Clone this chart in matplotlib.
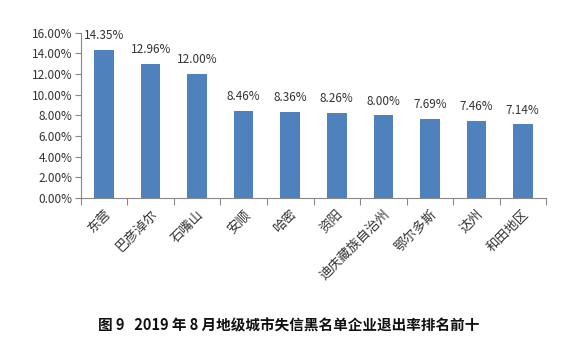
import numpy as np
import matplotlib
matplotlib.use("Agg")
import matplotlib.pyplot as plt
from matplotlib.ticker import FuncFormatter

plt.rcParams['font.family'] = ['Noto Sans CJK SC', 'DejaVu Sans']

cities = ["东营", "巴彦淖尔", "石嘴山", "安顺", "哈密", "资阳",
          "迪庆藏族自治州", "鄂尔多斯", "达州", "和田地区"]
rates = [14.35, 12.96, 12.00, 8.46, 8.36, 8.26, 8.00, 7.69, 7.46, 7.14]
yticks = [0, 2, 4, 6, 8, 10, 12, 14, 16]
caption = "图 9   2019 年 8 月地级城市失信黑名单企业退出率排名前十"

BAR = "#4F81BD"
AXIS = "#888888"
TEXT = "#333333"

fig = plt.figure(figsize=(5.7, 3.53), dpi=100)
ax = fig.add_axes([0.142, 0.439, 0.816, 0.468])

x = np.arange(len(cities))
ax.bar(x, rates, width=0.42, color=BAR)
for xi, v in zip(x, rates):
    ax.text(xi, v + 0.75, f"{v:.2f}%", ha="center", va="bottom",
            fontsize=8.5, color=TEXT)

ax.set_xlim(-0.5, len(cities) - 0.5)
ax.set_ylim(0, 16)
ax.set_yticks(yticks)
ax.yaxis.set_major_formatter(FuncFormatter(lambda v, p: f"{v:.2f}%"))
ax.tick_params(axis="y", labelsize=8.5, colors=AXIS, labelcolor=TEXT,
               length=4, width=0.8, pad=2)

# ticks on category boundaries, labels at centres
ax.set_xticks(np.arange(-0.5, len(cities) + 0.5, 1.0))
ax.set_xticklabels([])
ax.set_xticks(x, minor=True)
ax.set_xticklabels(cities, minor=True, rotation=45, ha="right",
                   rotation_mode="anchor", fontsize=9.5, color=TEXT)
ax.tick_params(axis="x", which="major", length=5, width=0.8, colors=AXIS)
ax.tick_params(axis="x", which="minor", length=0, pad=7)

for s in ["top", "right"]:
    ax.spines[s].set_visible(False)
for s in ["left", "bottom"]:
    ax.spines[s].set_color(AXIS)
    ax.spines[s].set_linewidth(0.8)

fig.text(0.507, 0.078, caption, ha="center", va="center", fontsize=10.5,
         color="#111111", fontweight="bold")

fig.savefig("out.png", dpi=100)
